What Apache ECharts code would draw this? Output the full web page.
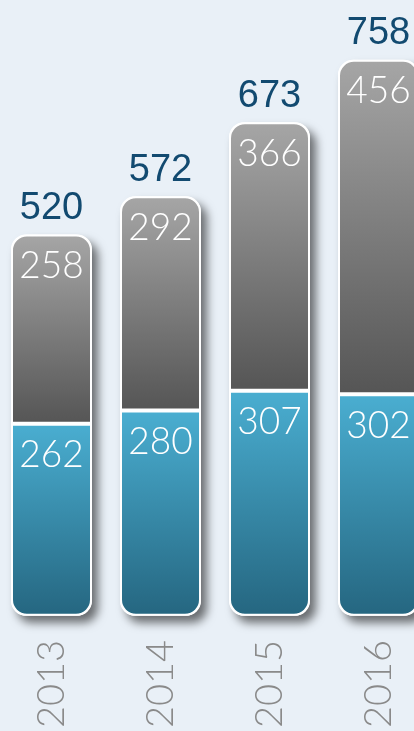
<!DOCTYPE html>
<html>
<head>
<meta charset="utf-8">
<style>
html,body{margin:0;padding:0;background:#e9f0f7;overflow:hidden;width:414px;height:731px;}
#c{width:436px;height:731px;margin-left:-3px;}
</style>
<script src="https://cdn.jsdelivr.net/npm/echarts@6/dist/echarts.min.js"></script>
</head>
<body>
<div id="c"></div>
<script>
var years = ['2013', '2014', '2015', '2016'];
var lowerValues = [262, 280, 307, 302];
var upperValues = [258, 292, 366, 456];
var totalValues = [520, 572, 673, 758];

var chart = echarts.init(document.getElementById('c'));
var thin = 'Lato, "Open Sans", sans-serif';
var reg = '"Liberation Sans", Arial, sans-serif';
chart.setOption({
  backgroundColor: '#e9f0f7',
  animation: false,
  grid: {left: 0, right: 0, top: 29, bottom: 114, containLabel: false},
  xAxis: {
    type: 'category', data: years,
    axisLine: {show: false}, axisTick: {show: false},
    axisLabel: {rotate: 90, margin: 24, color: '#8a8a8a', fontSize: 38, fontWeight: 300, fontFamily: thin}
  },
  yAxis: {type: 'value', min: 0, max: 800, show: false, splitLine: {show: false}},
  series: [
    {
      name: 'total', type: 'bar', data: totalValues, barWidth: 81, barGap: '-100%', z: 1,
      itemStyle: {color: '#ffffff', borderRadius: 15, shadowBlur: 10, shadowOffsetX: 6, shadowOffsetY: 7, shadowColor: 'rgba(0,0,0,0.55)'},
      label: {show: true, position: 'top', distance: 7, color: '#124a70', fontSize: 38, fontFamily: reg}
    },
    {
      name: 'lower', type: 'bar', stack: 'a', data: lowerValues, barWidth: 81, z: 2,
      itemStyle: {
        borderColor: '#ffffff', borderWidth: 2, borderRadius: [0, 0, 15, 15],
        color: new echarts.graphic.LinearGradient(0, 0, 0, 1, [{offset: 0, color: '#4aaed1'}, {offset: 1, color: '#256680'}])
      },
      label: {show: true, position: 'insideTop', distance: 13, color: '#ffffff', fontSize: 37, fontWeight: 300, fontFamily: thin}
    },
    {
      name: 'upper', type: 'bar', stack: 'a', data: upperValues, barWidth: 81, z: 2,
      itemStyle: {
        borderColor: '#ffffff', borderWidth: 2, borderRadius: [15, 15, 0, 0],
        color: new echarts.graphic.LinearGradient(0, 0, 0, 1, [{offset: 0, color: '#a6a6a6'}, {offset: 1, color: '#555555'}])
      },
      label: {show: true, position: 'insideTop', distance: 13, color: '#ffffff', fontSize: 37, fontWeight: 300, fontFamily: thin}
    }
  ]
});
</script>
</body>
</html>
